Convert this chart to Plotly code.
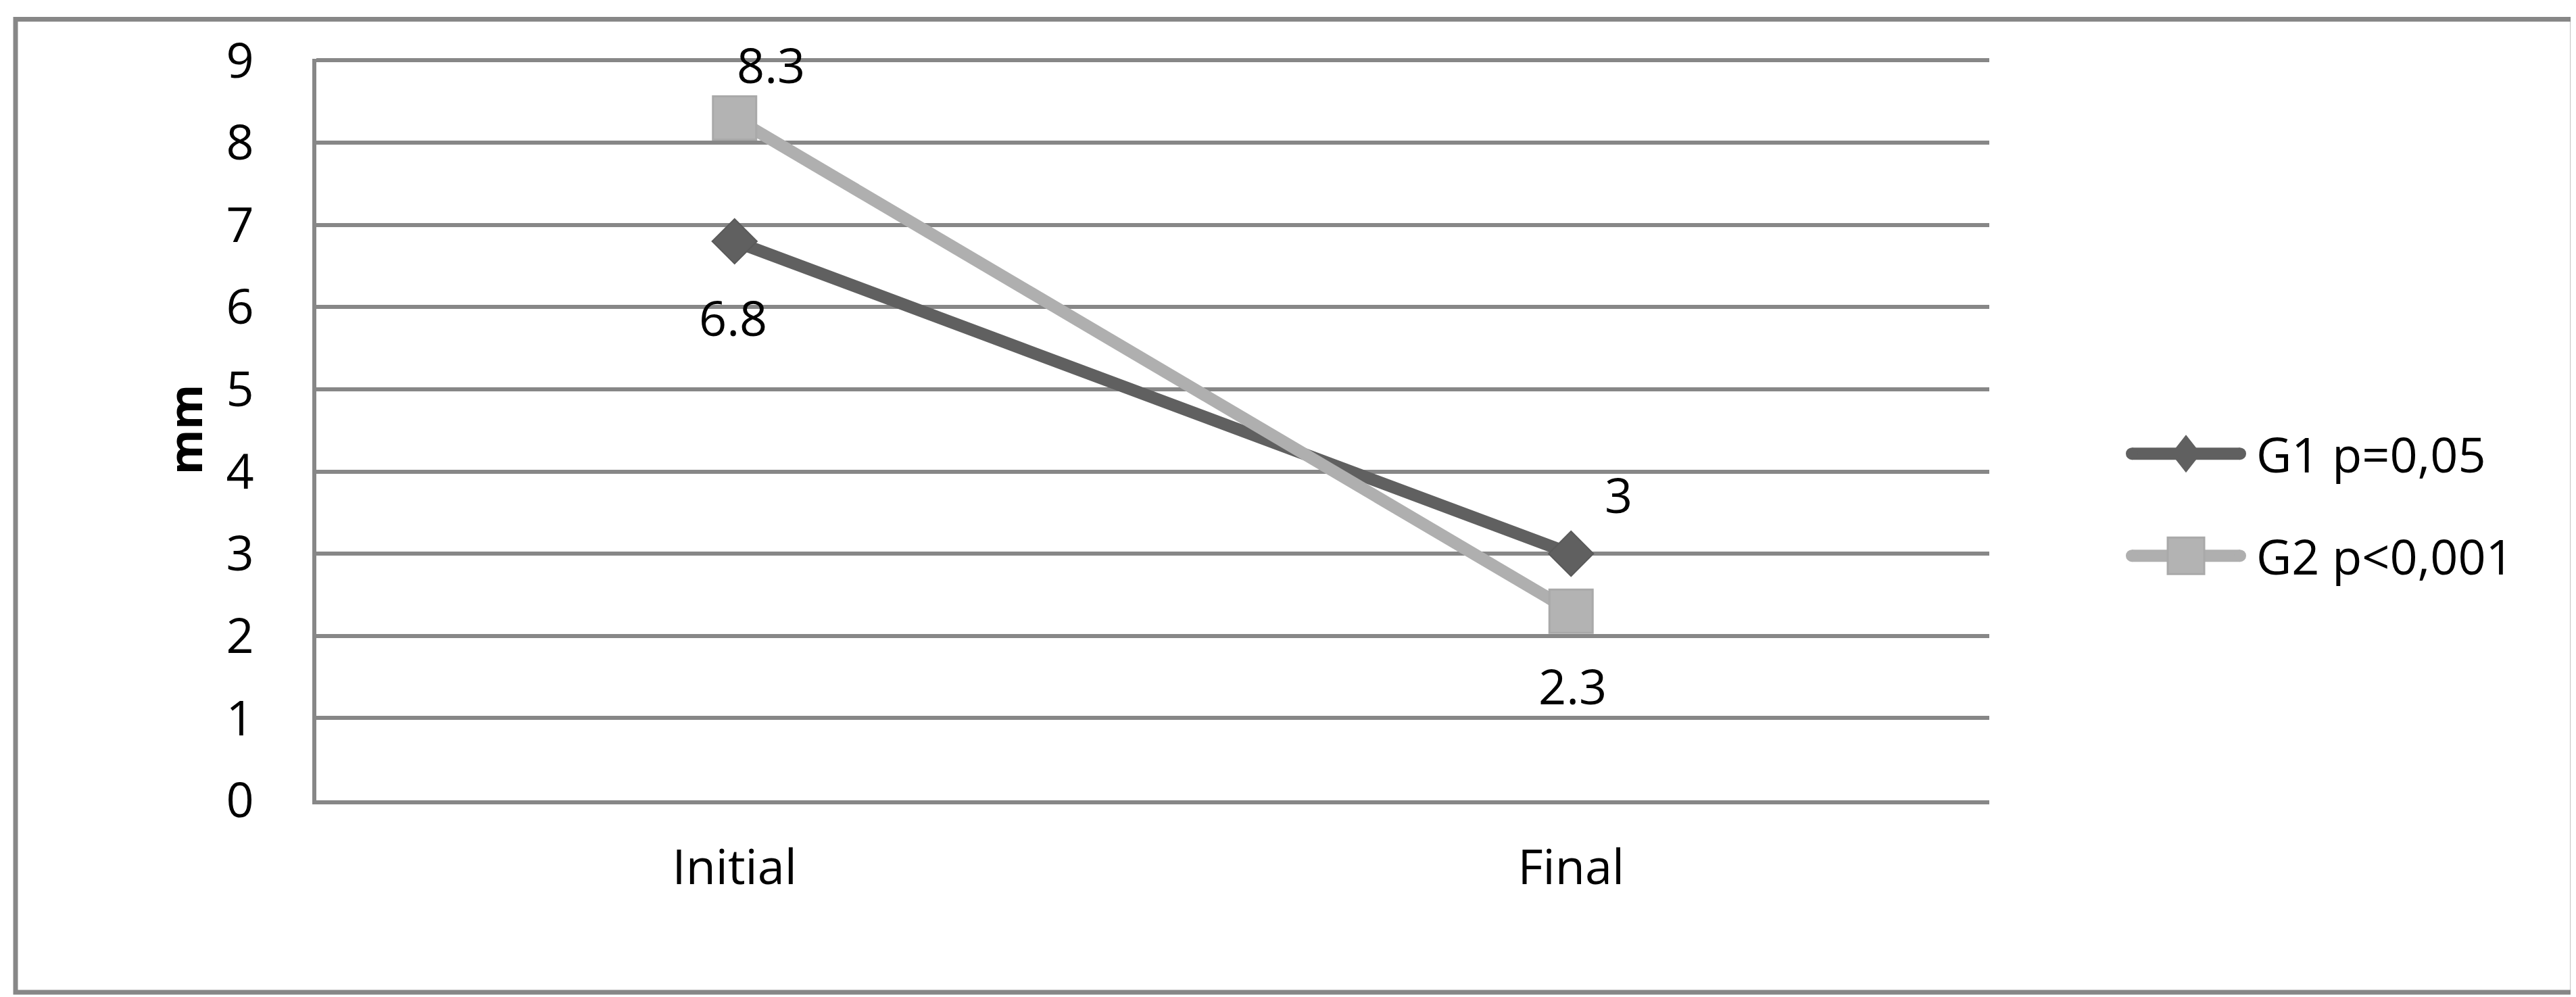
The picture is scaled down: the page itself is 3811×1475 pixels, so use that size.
import plotly.graph_objects as go

W, H = 3811, 1475

stages = ["Initial", "Final"]
g1_values = [6.8, 3.0]
g2_values = [8.3, 2.3]
g1_name = "G1 p=0,05"
g2_name = "G2 p<0,001"
g1_labels = ["6.8", "3"]
g2_labels = ["8.3", "2.3"]
y_ticks = list(range(0, 10))
y_max = 9

FONT = "Open Sans, Liberation Sans, sans-serif"
GRID = "#878787"
DARK = "#606060"
LIGHT = "#afafaf"

# plot area in pixels (range is padded slightly so the top gridline at 9 is drawn)
L, R, B = 460, 2935, 1176
unit = 1095 / 9
T = B - unit * (y_max + 0.02)
pw, ph = R - L, B - T


def px_x(p):
    return (p - L) / pw


def px_y(p):
    return (B - p) / ph


fig = go.Figure()
fig.add_trace(go.Scatter(
    x=stages, y=g1_values, name=g1_name, mode="lines+markers",
    line=dict(color=DARK, width=18),
    marker=dict(symbol="diamond", size=51, color=DARK, line=dict(color="#5a5a5a", width=2)),
))
fig.add_trace(go.Scatter(
    x=stages, y=g2_values, name=g2_name, mode="lines+markers",
    line=dict(color=LIGHT, width=18),
    marker=dict(symbol="square", size=64, color="#b3b3b3", line=dict(color="#a9a9a9", width=3)),
))

# data labels
g1_shift = [(-2, -112), (70, 88)]
g2_shift = [(54, 80), (2, -110)]
for xs, ys, labs, shifts in [(stages, g1_values, g1_labels, g1_shift),
                             (stages, g2_values, g2_labels, g2_shift)]:
    for x, y, t, (dx, dy) in zip(xs, ys, labs, shifts):
        fig.add_annotation(x=x, y=y, text=t, showarrow=False, xshift=dx, yshift=dy,
                           font=dict(size=72, color="black", family=FONT))

# outer chart border
fig.add_shape(type="rect", xref="paper", yref="paper",
              x0=px_x(15), x1=px_x(3798), y0=px_y(1460), y1=px_y(20),
              line=dict(color=GRID, width=7), fillcolor="rgba(0,0,0,0)", layer="below")

# legend drawn by hand so the sample lines and markers keep Excel's size
leg_items = [(g1_name, DARK, "diamond", 663), (g2_name, LIGHT, "square", 814)]
lx0, lx1, lcx, ltext = 3146, 3306, 3226, 3328
for name, col, sym, cy in leg_items:
    fig.add_shape(type="line", xref="paper", yref="paper",
                  x0=px_x(lx0), x1=px_x(lx1), y0=px_y(cy), y1=px_y(cy),
                  line=dict(color=col, width=18))
    for cx in (lx0, lx1):
        fig.add_shape(type="circle", xref="paper", yref="paper",
                      x0=px_x(cx - 9), x1=px_x(cx + 9), y0=px_y(cy + 9), y1=px_y(cy - 9),
                      line=dict(width=0), fillcolor=col)
    if sym == "diamond":
        rx, ry = 22, 28
        path = (f"M {px_x(lcx - rx)} {px_y(cy)} L {px_x(lcx)} {px_y(cy - ry)} "
                f"L {px_x(lcx + rx)} {px_y(cy)} L {px_x(lcx)} {px_y(cy + ry)} Z")
        fig.add_shape(type="path", xref="paper", yref="paper", path=path,
                      line=dict(width=0), fillcolor=col)
    else:
        r = 27
        fig.add_shape(type="rect", xref="paper", yref="paper",
                      x0=px_x(lcx - r), x1=px_x(lcx + r), y0=px_y(cy + r), y1=px_y(cy - r),
                      line=dict(color="#a9a9a9", width=3), fillcolor="#b3b3b3")
    fig.add_annotation(xref="paper", yref="paper", x=px_x(ltext), y=px_y(cy),
                       xanchor="left", yanchor="middle", text=name, showarrow=False,
                       font=dict(size=72, color="black", family=FONT))

fig.update_layout(
    width=W, height=H,
    paper_bgcolor="white", plot_bgcolor="white",
    margin=dict(l=L, r=W - R, t=T, b=H - B),
    font=dict(family=FONT, size=72, color="black"),
    showlegend=False,
)
fig.update_xaxes(type="category", range=[-0.5, 1.5], showgrid=False,
                 showline=True, linecolor=GRID, linewidth=6,
                 ticks="", ticklabelstandoff=32, tickfont=dict(size=72))
fig.update_yaxes(range=[0, y_max + 0.02], tickvals=y_ticks, showgrid=True, gridcolor=GRID, gridwidth=6,
                 zeroline=False, showline=True, linecolor=GRID, linewidth=6,
                 ticks="", ticklabelstandoff=72, tickfont=dict(size=72),
                 title=dict(text="<b>mm</b>", font=dict(size=68), standoff=15))

fig.write_html("out.html")
